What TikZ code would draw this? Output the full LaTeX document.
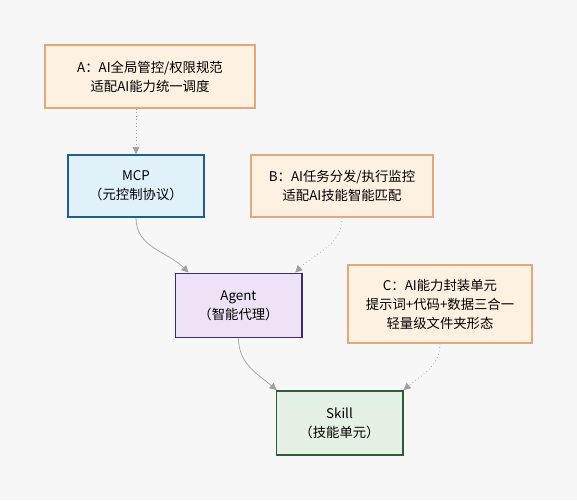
\documentclass[tikz,border=0pt]{standalone}
\usepackage{fontspec}
\setmainfont{Noto Sans CJK SC}
\usetikzlibrary{positioning,arrows.meta}
\definecolor{noteFill}{HTML}{FDF1E2}
\definecolor{noteLine}{HTML}{E6A77A}
\definecolor{mcpFill}{HTML}{E0F1FA}
\definecolor{mcpLine}{HTML}{1F5F8B}
\definecolor{agentFill}{HTML}{EEE3F6}
\definecolor{agentLine}{HTML}{3D2A7E}
\definecolor{skillFill}{HTML}{E5F1E4}
\definecolor{skillLine}{HTML}{2F5D35}
\definecolor{linkGray}{HTML}{A0A0A0}
\tikzset{
  noteBox/.style={rectangle, fill=noteFill, draw=noteLine, line width=0.9pt, align=center},
  mainBox/.style={rectangle, line width=1.4pt, align=center, minimum width=3.15cm, minimum height=1.6cm},
  mcpBox/.style={mainBox, fill=mcpFill, draw=mcpLine, minimum width=3.4cm, minimum height=1.55cm},
  agentBox/.style={mainBox, fill=agentFill, draw=agentLine},
  skillBox/.style={mainBox, fill=skillFill, draw=skillLine},
  flowArrow/.style={-{Triangle[length=5pt,width=5pt,fill=linkGray]}, draw=linkGray, line width=0.5pt},
  hintArrow/.style={flowArrow, dotted}
}
\begin{document}
\begin{tikzpicture}[x=0.025cm, y=-0.025cm, font={\fontsize{9.5}{13.5}\selectfont}]
  \fill[white!97!black] (0,0) rectangle (577,500);
  \useasboundingbox (0,0) rectangle (577,500);
  % upper row
  \node [noteBox, minimum width=5.25cm, minimum height=1.575cm] (noteA) at (150,76.5)
    {A：AI全局管控/权限规范\\适配AI能力统一调度};
  \node [mcpBox] (mcp) at (136,186) {MCP\\（元控制协议）};
  \node [noteBox, minimum width=4.55cm, minimum height=1.55cm] (noteB) at (342,186)
    {B：AI任务分发/执行监控\\适配AI技能智能匹配};
  % middle row
  \node [agentBox] (agent) at (238.5,305.5) {Agent\\（智能代理）};
  \node [noteBox, minimum width=4.6cm, minimum height=1.95cm] (noteC) at (440,304)
    {C：AI能力封装单元\\提示词+代码+数据三合一\\轻量级文件夹形态};
  % bottom
  \node [skillBox] (skill) at (339.5,423) {Skill\\（技能单元）};

  \draw [hintArrow] (noteA.south -| mcp.north) -- (mcp.north);
  \draw [flowArrow] (mcp.south) to[out=-90, in=135] ([xshift=0.35cm]agent.north west);
  \draw [hintArrow] (noteB.south) to[out=-90, in=45] ([xshift=-0.18cm]agent.north east);
  \draw [flowArrow] (agent.south) to[out=-90, in=140] ([xshift=0.03cm]skill.north west);
  \draw [hintArrow] (noteC.south) to[out=-90, in=40] (skill.north east);
\end{tikzpicture}
\end{document}
